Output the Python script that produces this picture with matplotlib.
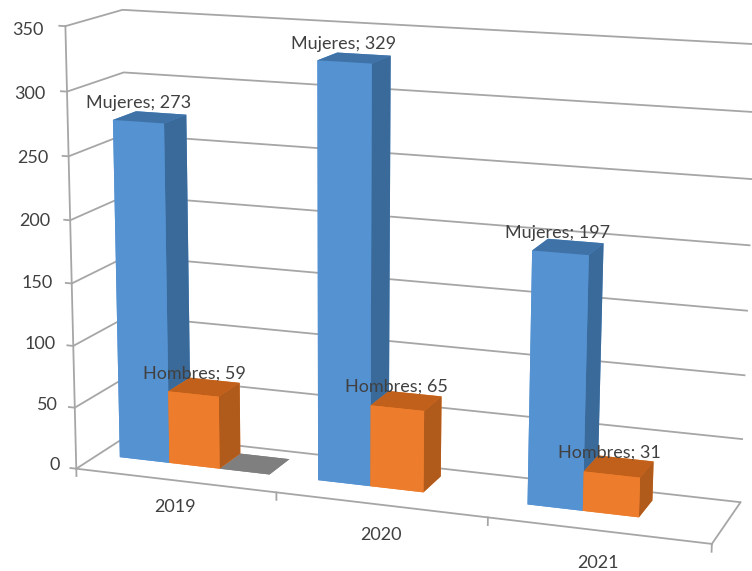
import numpy as np
import matplotlib
matplotlib.use("Agg")
import matplotlib.pyplot as plt
from mpl_toolkits.mplot3d import proj3d

years = ["2019", "2020", "2021"]
mujeres = [273, 329, 197]
hombres = [59, 65, 31]
otros = [0]
zticks = [0, 50, 100, 150, 200, 250, 300, 350]
plt.rcParams['font.family'] = ['Lato', 'DejaVu Sans']

fig = plt.figure(figsize=(7.52, 5.71), dpi=100)
ax = fig.add_axes([-32.2/752, -129.9/571, 849.2/752, 849.2/571], projection='3d')
ax.computed_zorder = False
ax.set_proj_type('persp', focal_length=0.55398)
ax.view_init(elev=13.2979, azim=-70.874, roll=-0.3608)
ax.set_box_aspect((1.4534, 0.28592, 1.0), zoom=1.8/(1.8294640721620434*25/24))
ax.set_xlim(0, 3, view_margin=0)
ax.set_ylim(0, 1, view_margin=0)
ax.set_zlim(0, 350, view_margin=0)

BW = 0.255; X0 = 0.113; Y0 = 0.39; DP = 0.42
blue = ['#5592D2', '#3F73A8', '#5592D2', '#5592D2', '#5592D2', '#3A6A9A']
orange = ['#ED7D2C', '#C0601A', '#ED7D2C', '#ED7D2C', '#ED7D2C', '#B05A1C']
gray = ['#7F7F7F']*6
ax.bar3d(X0+2*BW, Y0, 0, 0.25, DP, otros[0], color=gray, shade=False, zorder=1, linewidth=0)
for i in range(3):
    ax.bar3d(i+X0, Y0, 0, BW, DP, mujeres[i], color=blue, shade=False, zorder=2+i*3, linewidth=0)
    ax.bar3d(i+X0+BW, Y0, 0, BW, DP, hombres[i], color=orange, shade=False, zorder=3+i*3, linewidth=0)

ax.set_xticks([]); ax.set_yticks([]); ax.set_zticks(zticks); ax.set_zticklabels([])
ax.tick_params(length=0)
c3 = '#A6A6A6'
for a in (ax.xaxis, ax.yaxis, ax.zaxis):
    a.set_pane_color((1, 1, 1, 0))
    a.pane.set_edgecolor((0, 0, 0, 0))
    a.line.set_color((0, 0, 0, 0))
    a._axinfo['grid'].update(color=c3, linewidth=1.3)
    a._axinfo['tick'].update(inward_factor=0, outward_factor=0)

ax.plot([0, 0], [0, 0], [0, 350], color=c3, lw=1.3, zorder=0.5)
ax.plot([0, 3], [0, 0], [0, 0], color=c3, lw=1.3, zorder=0.5)
ax.plot([3, 3], [0, 1], [0, 0], color=c3, lw=1.3, zorder=0.5)
for z in zticks:
    ax.plot([0, -.03], [0, 0], [z, z], color=c3, lw=1.3, zorder=0.5)
for x in (0, 1, 2, 3):
    ax.plot([x, x], [0, 0], [0, -6], color=c3, lw=1.3, zorder=0.5)

M = ax.get_proj()
def lab(x, y, z, t, dx=0, dy=0, ha='center'):
    q = proj3d.proj_transform(x, y, z, M)
    ax.annotate(t, xy=(q[0], q[1]), xytext=(dx*.72, dy*.72), textcoords='offset points',
                ha=ha, va='center', fontsize=13, color='#404040', zorder=40, annotation_clip=False)

for z in zticks:
    lab(0, 0, z, str(z), dx=-16-6*z/350, dy=4-8*z/350, ha='right')
for i, y in enumerate(years):
    lab(i+.5, 0, 0, y, dy=[-27, -30, -33][i])
for i in range(3):
    lab(i+.25, Y0+DP/2, mujeres[i], f"Mujeres; {mujeres[i]}", dx=-13, dy=14)
    lab(i+.5, Y0+DP/2, hombres[i], f"Hombres; {hombres[i]}", dx=-11, dy=14)
fig.savefig('out.png', dpi=100)
